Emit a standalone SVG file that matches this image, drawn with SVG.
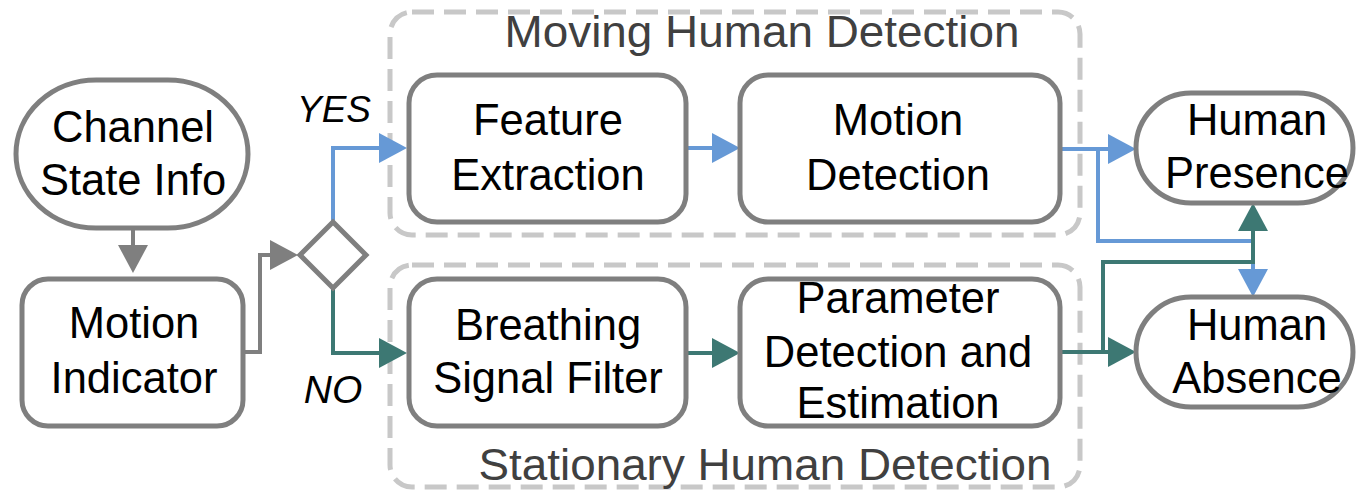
<svg xmlns="http://www.w3.org/2000/svg" width="1357" height="491" viewBox="0 0 1357 491">
<defs>
<style>
.node{fill:#fff;stroke:#7f7f7f;stroke-width:5}
.grp{fill:none;stroke:#c8c8c8;stroke-width:5;stroke-dasharray:22 10}
.t{font-family:"Liberation Sans",Arial,sans-serif;font-size:43.5px;fill:#000;text-anchor:middle}
.title{font-family:"Liberation Sans",Arial,sans-serif;font-size:44px;fill:#404040;text-anchor:middle}
.lbl{font-family:"Liberation Sans",Arial,sans-serif;font-style:italic;fill:#000;text-anchor:middle}
.c{fill:none;stroke-width:4}
.gray{stroke:#7f7f7f}
.blue{stroke:#6699d6}
.teal{stroke:#3d7873}
</style>
<marker id="ag" markerUnits="userSpaceOnUse" markerWidth="30" markerHeight="30" viewBox="0 0 28 30" refX="18" refY="15" orient="auto"><path d="M0,0 L28,15 L0,30 z" fill="#7f7f7f"/></marker>
<marker id="ab" markerUnits="userSpaceOnUse" markerWidth="30" markerHeight="30" viewBox="0 0 28 30" refX="18" refY="15" orient="auto"><path d="M0,0 L28,15 L0,30 z" fill="#6699d6"/></marker>
<marker id="at" markerUnits="userSpaceOnUse" markerWidth="30" markerHeight="30" viewBox="0 0 28 30" refX="18" refY="15" orient="auto"><path d="M0,0 L28,15 L0,30 z" fill="#3d7873"/></marker>
</defs>
<rect width="1357" height="491" fill="#fff"/>

<g id="group-moving">
<rect class="grp" x="390" y="12" width="690" height="223" rx="22"/>
<text class="title" x="762" y="47" textLength="515" lengthAdjust="spacingAndGlyphs">Moving Human Detection</text>
</g>
<g id="group-stationary">
<rect class="grp" x="390" y="265" width="690" height="222" rx="22"/>
<text class="title" x="765" y="480" textLength="573" lengthAdjust="spacingAndGlyphs">Stationary Human Detection</text>
</g>

<g id="connectors">
<path class="c gray" d="M133,228 V263" marker-end="url(#ag)"/>
<path class="c gray" d="M245,352 H260 V255 H288" marker-end="url(#ag)"/>
<path class="c blue" d="M333,222 V148 H397" marker-end="url(#ab)"/>
<path class="c teal" d="M333,288 V353 H397" marker-end="url(#at)"/>
<path class="c blue" d="M686,148 H730" marker-end="url(#ab)"/>
<path class="c teal" d="M686,353 H730" marker-end="url(#at)"/>
<path class="c blue" d="M1060,149 H1126" marker-end="url(#ab)"/>
<path class="c blue" d="M1098,149 V241 H1253 V287" marker-end="url(#ab)"/>
<path class="c teal" d="M1060,352 H1126" marker-end="url(#at)"/>
<path class="c teal" d="M1103,352 V262 H1253 V213" marker-end="url(#at)"/>
</g>

<g id="node-csi">
<rect class="node" x="16" y="80" width="232" height="148" rx="80" ry="74"/>
<text class="t" x="133" y="142">Channel</text>
<text class="t" x="133" y="195">State Info</text>
</g>
<g id="node-motion-indicator">
<rect class="node" x="22" y="279" width="221" height="147" rx="26"/>
<text class="t" x="134" y="338">Motion</text>
<text class="t" x="134" y="393">Indicator</text>
</g>
<g id="node-decision">
<polygon class="node" points="333,222 366,255 333,288 300,255"/>
</g>
<text class="lbl" x="334" y="122" font-size="37">YES</text>
<text class="lbl" x="333" y="403" font-size="39">NO</text>

<g id="node-feature">
<rect class="node" x="409" y="75" width="277" height="147" rx="28"/>
<text class="t" x="548" y="135">Feature</text>
<text class="t" x="548" y="190">Extraction</text>
</g>
<g id="node-motion-detection">
<rect class="node" x="740" y="75" width="320" height="147" rx="28"/>
<text class="t" x="898" y="135">Motion</text>
<text class="t" x="898" y="190">Detection</text>
</g>
<g id="node-breathing">
<rect class="node" x="409" y="279" width="277" height="147" rx="28"/>
<text class="t" x="548" y="340">Breathing</text>
<text class="t" x="548" y="393">Signal Filter</text>
</g>
<g id="node-parameter">
<rect class="node" x="740" y="279" width="320" height="147" rx="28"/>
<text class="t" x="898" y="313">Parameter</text>
<text class="t" x="898" y="367">Detection and</text>
<text class="t" x="898" y="418">Estimation</text>
</g>
<g id="node-presence">
<rect class="node" x="1136" y="93" width="217" height="110" rx="55"/>
<text class="t" x="1257" y="135">Human</text>
<text class="t" x="1257" y="188">Presence</text>
</g>
<g id="node-absence">
<rect class="node" x="1136" y="297" width="217" height="110" rx="55"/>
<text class="t" x="1257" y="340">Human</text>
<text class="t" x="1257" y="393">Absence</text>
</g>
</svg>
